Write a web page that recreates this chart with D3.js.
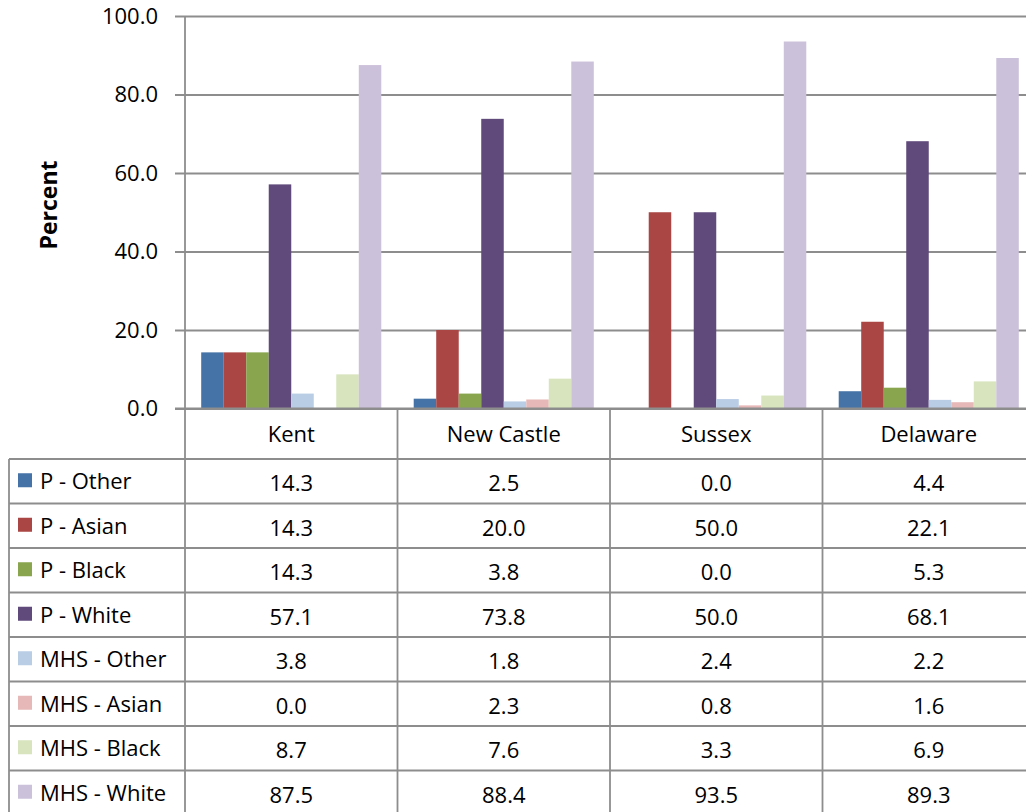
<!DOCTYPE html>
<html>
<head>
<meta charset="utf-8">
<script src="https://cdn.jsdelivr.net/npm/d3@7"></script>
<style>
  html, body { margin: 0; padding: 0; background: #ffffff; }
  svg { display: block; font-family: "Open Sans", "Noto Sans", sans-serif; }
</style>
</head>
<body>
<svg id="chart" width="1026" height="812"></svg>
<script>
// Categories (columns of the data table)
const counties = ["Kent", "New Castle", "Sussex", "Delaware"];

// Series names (rows of the data table)
const seriesNames = [
  "P - Other", "P - Asian", "P - Black", "P - White",
  "MHS - Other", "MHS - Asian", "MHS - Black", "MHS - White"
];

// Values per series, in the order of counties
const pOther   = [14.3, 2.5, 0.0, 4.4];
const pAsian   = [14.3, 20.0, 50.0, 22.1];
const pBlack   = [14.3, 3.8, 0.0, 5.3];
const pWhite   = [57.1, 73.8, 50.0, 68.1];
const mhsOther = [3.8, 1.8, 2.4, 2.2];
const mhsAsian = [0.0, 2.3, 0.8, 1.6];
const mhsBlack = [8.7, 7.6, 3.3, 6.9];
const mhsWhite = [87.5, 88.4, 93.5, 89.3];

const seriesValues = [pOther, pAsian, pBlack, pWhite, mhsOther, mhsAsian, mhsBlack, mhsWhite];

const seriesColors = [
  "#4572A7", "#AA4643", "#89A54E", "#604A7B",
  "#B9CDE5", "#E6B9B8", "#D7E4BD", "#CCC1DA"
];

// Value axis ticks
const yTicks = [0, 20, 40, 60, 80, 100];

const svg = d3.select("#chart");
const lineColor = "#8d8d8d";
const lineWidth = 1.8;

// Layout
const plotLeft = 185, plotRight = 1035, plotTop = 16, plotBottom = 408.5;
const headerBottom = 459, rowH = 44.5, legendLeft = 9;

const x0 = d3.scaleBand().domain(counties).range([plotLeft, plotRight]).paddingInner(0).paddingOuter(0);
const x1 = d3.scaleBand().domain(seriesNames).range([0, x0.bandwidth()]).paddingInner(0).paddingOuter(0.72);
const y = d3.scaleLinear().domain([0, 100]).range([plotBottom, plotTop]);
const color = d3.scaleOrdinal().domain(seriesNames).range(seriesColors);

// Gridlines with short ticks extending left of the axis
const yAxis = d3.axisLeft(y)
  .tickValues(yTicks)
  .tickFormat(d3.format(".1f"))
  .tickSize(-(plotRight - plotLeft) - 10)
  .tickPadding(16);

const gy = svg.append("g")
  .attr("transform", `translate(${plotLeft - 10},0)`)
  .call(yAxis);
gy.select(".domain").remove();
gy.selectAll(".tick line")
  .attr("x1", 0)
  .attr("x2", plotRight - plotLeft + 10)
  .attr("stroke", lineColor)
  .attr("stroke-width", lineWidth);
gy.selectAll(".tick text")
  .attr("x", -17)
  .attr("fill", "#000")
  .attr("font-size", 22)
  .attr("font-family", "'Open Sans', sans-serif");

// Bars
const groups = svg.append("g").selectAll("g")
  .data(counties)
  .join("g")
  .attr("transform", d => `translate(${x0(d)},0)`);

groups.selectAll("rect")
  .data((c, ci) => seriesNames.map((s, si) => ({ s, v: seriesValues[si][ci] })))
  .join("rect")
  .attr("x", d => x1(d.s))
  .attr("width", x1.bandwidth())
  .attr("y", d => y(d.v))
  .attr("height", d => y(0) - y(d.v))
  .attr("fill", d => color(d.s));

// Redraw the zero line over the bars
svg.append("line")
  .attr("x1", plotLeft - 10).attr("x2", plotRight)
  .attr("y1", y(0)).attr("y2", y(0))
  .attr("stroke", lineColor).attr("stroke-width", lineWidth);

// Vertical value axis line
svg.append("line")
  .attr("x1", plotLeft).attr("x2", plotLeft)
  .attr("y1", plotTop).attr("y2", plotBottom)
  .attr("stroke", lineColor).attr("stroke-width", lineWidth);

// Axis title
svg.append("text")
  .attr("transform", `translate(57,205) rotate(-90)`)
  .attr("text-anchor", "middle")
  .attr("font-size", 23)
  .attr("font-weight", "bold")
  .attr("fill", "#000")
  .text("Percent");

// Data table
const table = svg.append("g");
const tableBottom = headerBottom + rowH * seriesNames.length;

// Column separators
const colEdges = counties.map(c => x0(c)).concat([plotRight]);
colEdges.forEach(xv => {
  table.append("line")
    .attr("x1", xv).attr("x2", xv)
    .attr("y1", plotBottom).attr("y2", tableBottom)
    .attr("stroke", lineColor).attr("stroke-width", lineWidth);
});
// Legend column left edge
table.append("line")
  .attr("x1", legendLeft).attr("x2", legendLeft)
  .attr("y1", headerBottom).attr("y2", tableBottom)
  .attr("stroke", lineColor).attr("stroke-width", lineWidth);

// Row separators
d3.range(seriesNames.length + 1).forEach(i => {
  const yy = headerBottom + i * rowH;
  table.append("line")
    .attr("x1", legendLeft).attr("x2", plotRight)
    .attr("y1", yy).attr("y2", yy)
    .attr("stroke", lineColor).attr("stroke-width", lineWidth);
});

// Header labels
table.selectAll("text.head")
  .data(counties)
  .join("text")
  .attr("class", "head")
  .attr("x", d => x0(d) + x0.bandwidth() / 2)
  .attr("y", (plotBottom + headerBottom) / 2 + 8)
  .attr("text-anchor", "middle")
  .attr("font-size", 22)
  .attr("fill", "#000")
  .text(d => d);

// Rows: legend key + values
seriesNames.forEach((s, si) => {
  const cy = headerBottom + si * rowH + rowH / 2;
  table.append("rect")
    .attr("x", 18).attr("y", cy - 8)
    .attr("width", 14).attr("height", 14)
    .attr("fill", color(s));
  table.append("text")
    .attr("x", 40).attr("y", cy + 8)
    .attr("font-size", 22)
    .attr("fill", "#000")
    .text(s);
  counties.forEach((c, ci) => {
    table.append("text")
      .attr("x", x0(c) + x0.bandwidth() / 2)
      .attr("y", cy + 10)
      .attr("text-anchor", "middle")
      .attr("font-size", 22)
      .attr("fill", "#000")
      .text(d3.format(".1f")(seriesValues[si][ci]));
  });
});
</script>
</body>
</html>
